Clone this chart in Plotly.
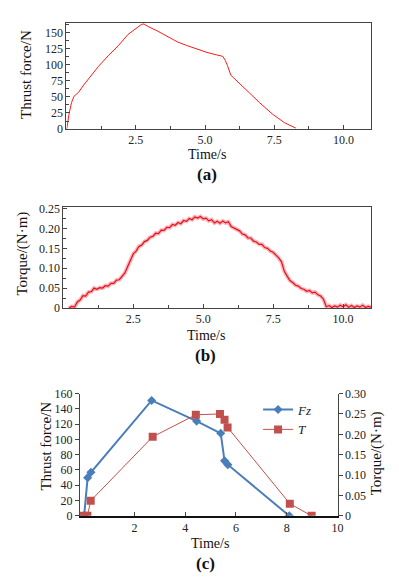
import plotly.graph_objects as go

# ---------- Panel (a): thrust force vs time ----------
time_a = [0.0, 0.02, 0.09, 0.18, 0.27, 0.44, 0.62, 0.80, 1.16, 1.51, 1.87, 2.22, 2.58, 2.70, 2.79,
          2.94, 3.29, 3.65, 4.00, 4.36, 4.72, 5.07, 5.43, 5.64, 5.73, 5.81, 5.93, 6.26, 6.61, 6.97,
          7.44, 7.86, 8.10, 8.27]
force_a = [0, 2.6, 23, 41, 51, 57.5, 68.7, 79, 98, 114.5, 130, 147.6, 160, 163, 164,
           160, 152.7, 144, 136, 130, 124.7, 119.5, 115.5, 113.4, 107, 99, 84, 71, 56, 41,
           23, 10, 5, 1.5]

# ---------- Panel (b): torque vs time ----------
time_b = [0.2, 0.3, 0.4, 0.5, 0.6, 0.7, 0.8, 0.9, 1.0, 1.1, 1.2, 1.3, 1.4, 1.5, 1.6, 1.7, 1.8, 1.9,
          2.0, 2.1, 2.2, 2.3, 2.4, 2.5, 2.6, 2.7, 2.8, 2.9, 3.0, 3.1, 3.2, 3.3, 3.4, 3.5, 3.6, 3.7,
          3.8, 3.9, 4.0, 4.1, 4.2, 4.3, 4.4, 4.5, 4.6, 4.7, 4.8, 4.9, 5.0, 5.1, 5.2, 5.3, 5.4, 5.5,
          5.6, 5.7, 5.8, 5.9, 6.0, 6.1, 6.2, 6.3, 6.4, 6.5, 6.6, 6.7, 6.8, 6.9, 7.0, 7.1, 7.2, 7.3,
          7.4, 7.5, 7.6, 7.7, 7.8, 7.9, 8.0, 8.1, 8.2, 8.3, 8.4, 8.5, 8.6, 8.7, 8.8, 8.9, 9.0, 9.1,
          9.2, 9.3, 9.4, 9.5, 9.6, 9.7, 9.8, 9.9, 10.0, 10.1, 10.2, 10.3, 10.4, 10.5, 10.6, 10.7,
          10.8, 10.9, 11.0]
torque_b = [0.000, 0.004, 0.002, 0.015, 0.020, 0.031, 0.030, 0.040, 0.041, 0.050, 0.047, 0.051,
            0.050, 0.056, 0.055, 0.062, 0.062, 0.070, 0.071, 0.081, 0.088, 0.104, 0.118, 0.136,
            0.143, 0.155, 0.158, 0.167, 0.170, 0.178, 0.180, 0.188, 0.187, 0.196, 0.195, 0.203,
            0.202, 0.210, 0.208, 0.215, 0.212, 0.220, 0.218, 0.225, 0.222, 0.229, 0.226, 0.230,
            0.224, 0.226, 0.219, 0.222, 0.214, 0.218, 0.213, 0.219, 0.214, 0.217, 0.205, 0.201,
            0.196, 0.194, 0.186, 0.184, 0.176, 0.176, 0.168, 0.166, 0.160, 0.160, 0.152, 0.150,
            0.143, 0.140, 0.133, 0.126, 0.116, 0.092, 0.080, 0.069, 0.064, 0.057, 0.055, 0.049,
            0.047, 0.042, 0.044, 0.038, 0.040, 0.033, 0.030, 0.022, 0.003, 0.006, 0.001, 0.005,
            0.002, 0.007, 0.003, 0.008, 0.002, 0.006, 0.001, 0.005, 0.002, 0.007, 0.001, 0.004,
            0.002]

# ---------- Panel (c): measured points ----------
time_fz = [0.02, 0.16, 0.29, 2.68, 4.45, 5.40, 5.55, 5.68, 8.10]
fz = [0, 50, 57, 151, 124, 108, 72, 67, 0]
time_t = [0.0, 0.15, 0.28, 2.72, 4.42, 5.37, 5.55, 5.67, 8.12, 8.98]
torque_t = [0, 0, 0.037, 0.194, 0.248, 0.250, 0.236, 0.217, 0.030, 0.0]

tick_a_x = [2.5, 5.0, 7.5, 10.0]
tick_a_x_text = ["2.5", "5.0", "7.5", "10.0"]
tick_b_y = [0, 0.05, 0.10, 0.15, 0.20, 0.25]
tick_b_y_text = ["0", "0.05", "0.10", "0.15", "0.20", "0.25"]
tick_c_x = [2, 4, 6, 8, 10]
tick_c_y2 = [0, 0.05, 0.10, 0.15, 0.20, 0.25, 0.30]
tick_c_y2_text = ["0", "0.05", "0.10", "0.15", "0.20", "0.25", "0.30"]

FONT = "Times New Roman, Liberation Serif, serif"
AX = "#444444"
W, H = 399, 587

fig = go.Figure()
fig.add_trace(go.Scatter(x=time_a, y=force_a, mode="lines", xaxis="x", yaxis="y",
                         line=dict(color="#ff1a1a", width=1), showlegend=False))
# pale band under the torque signal (visual noise envelope)
fig.add_trace(go.Scatter(x=time_b, y=torque_b, mode="lines", xaxis="x2", yaxis="y2",
                         line=dict(color="rgba(245,120,130,0.55)", width=4), showlegend=False,
                         hoverinfo="skip"))
fig.add_trace(go.Scatter(x=time_b, y=torque_b, mode="lines", xaxis="x2", yaxis="y2",
                         line=dict(color="#e8101c", width=1.2), showlegend=False))
fig.add_trace(go.Scatter(x=time_fz, y=fz, mode="lines+markers", xaxis="x3", yaxis="y3",
                         name="<i>Fz</i>",
                         line=dict(color="#4a7ebb", width=2),
                         marker=dict(symbol="diamond", size=7, color="#4a7ebb")))
fig.add_trace(go.Scatter(x=time_t, y=torque_t, mode="lines+markers", xaxis="x3", yaxis="y4",
                         name="<i>T</i>",
                         line=dict(color="#c0504d", width=1),
                         marker=dict(symbol="square", size=8, color="#c0504d")))

tickfont = dict(family=FONT, size=12, color="#222")
common = dict(showline=True, linecolor=AX, linewidth=1, showgrid=False, zeroline=False,
              tickfont=tickfont, tickcolor=AX)

def py(px):
    return 1 - px / H

def pxx(px):
    return px / W

fig.update_layout(
    width=W, height=H, autosize=False,
    margin=dict(l=0, r=0, t=0, b=0),
    paper_bgcolor="white", plot_bgcolor="white",
    font=dict(family=FONT, color="#222"),
    xaxis=dict(domain=[pxx(67.5), pxx(377)], anchor="y", range=[0, 11], mirror=True,
               tickvals=tick_a_x, ticktext=tick_a_x_text, ticks="inside", ticklen=4,
               minor=dict(dtick=1.25, tick0=0, ticks="inside", ticklen=3, tickcolor=AX), **common),
    yaxis=dict(domain=[py(125), py(16)], anchor="x", range=[0, 166], mirror=True,
               tickmode="linear", tick0=0, dtick=25, ticks="inside", ticklen=4,
               minor=dict(dtick=12.5, tick0=0, ticks="inside", ticklen=3, tickcolor=AX), **common),
    xaxis2=dict(domain=[pxx(64.3), pxx(376.7)], anchor="y2", range=[0, 11], mirror=True,
                tickvals=tick_a_x, ticktext=tick_a_x_text, ticks="inside", ticklen=4,
                minor=dict(dtick=1.25, tick0=0, ticks="inside", ticklen=3, tickcolor=AX), **common),
    yaxis2=dict(domain=[py(308.3), py(205.3)], anchor="x2", range=[0, 0.253], mirror=True,
                tickvals=tick_b_y, ticktext=tick_b_y_text, ticks="inside", ticklen=4,
                minor=dict(dtick=0.025, tick0=0, ticks="inside", ticklen=3, tickcolor=AX), **common),
    xaxis3=dict(domain=[pxx(81), pxx(342.7)], anchor="y3", range=[-0.15, 10],
                tickvals=tick_c_x, ticks="inside", ticklen=4,
                **{**common, "linecolor": "#111", "linewidth": 1.5}),
    yaxis3=dict(domain=[py(521.3), py(396)], anchor="x3", range=[0, 160],
                tickmode="linear", tick0=0, dtick=20, ticks="outside", ticklen=4, **common),
    yaxis4=dict(overlaying="y3", anchor="x3", side="right", range=[0, 0.30],
                tickvals=tick_c_y2, ticktext=tick_c_y2_text, ticks="outside", ticklen=4, **common),
    legend=dict(x=pxx(262), y=py(397), xanchor="left", yanchor="top",
                bgcolor="rgba(0,0,0,0)", font=dict(family=FONT, size=13, color="#222"),
                tracegroupgap=0, itemwidth=30),
)

ann = []
def txt(x, y, s, size=14.5, angle=0, bold=False):
    ann.append(dict(x=pxx(x), y=py(y), xref="paper", yref="paper", text=("<b>%s</b>" % s) if bold else s,
                    showarrow=False, textangle=angle, xanchor="center", yanchor="middle",
                    borderpad=0,
                    font=dict(family=FONT, size=size, color="#111")))

txt(210, 151, "Time/s", size=14)
txt(210, 171.5, "(a)", size=17, bold=True)
txt(27, 69, "Thrust force/N", size=15, angle=-90)
txt(209, 337, "Time/s", size=14)
txt(209, 357.5, "(b)", size=17, bold=True)
txt(23, 253, "Torque/(N·m)", size=15, angle=-90)
txt(213, 550, "Time/s", size=14)
txt(209, 570, "(c)", size=17, bold=True)
txt(47, 450, "Thrust force/N", size=15, angle=-90)
txt(382, 457, "Torque/(N·m)", size=15, angle=-90)
fig.update_layout(annotations=ann)

fig.write_html("out.html", config={"displayModeBar": False},
               post_script="document.body.style.margin='0';document.body.style.overflow='hidden';")
